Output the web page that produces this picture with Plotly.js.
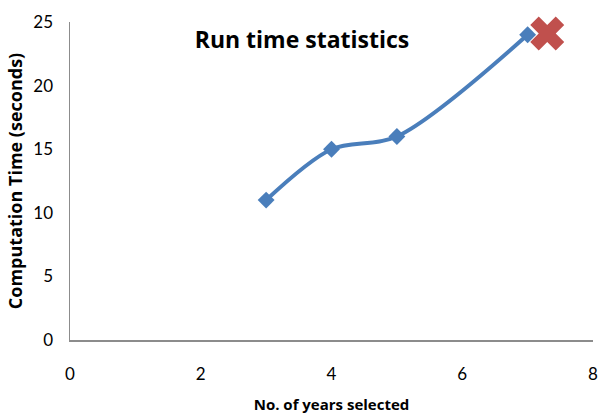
<!DOCTYPE html>
<html>
<head>
<meta charset="utf-8">
<script src="https://cdn.plot.ly/plotly-3.0.1.min.js"></script>
<style>html,body{margin:0;padding:0;background:#fff;}#chart{width:598px;height:416px;}</style>
</head>
<body>
<div id="chart"></div>
<script>
var yearsSelected = [3, 4, 5, 7];
var computationTime = [11, 15, 16, 24];
var failX = [7.3];
var failY = [24.1];
var xTicks = [0, 2, 4, 6, 8];
var yTicks = [0, 5, 10, 15, 20, 25];

var traces = [
  {
    x: yearsSelected, y: computationTime, type: 'scatter', mode: 'lines+markers',
    line: {color: '#4A7EBB', width: 4, shape: 'spline', smoothing: 0.9},
    marker: {symbol: 'diamond', size: 13, color: '#4A7EBB'},
    hoverinfo: 'skip', cliponaxis: false
  },
  {
    x: failX, y: failY, type: 'scatter', mode: 'markers',
    marker: {symbol: 'x', size: 30, color: '#C0504D'},
    hoverinfo: 'skip', cliponaxis: false
  }
];

var layout = {
  width: 598, height: 416,
  margin: {l: 70, r: 5, t: 22, b: 76},
  paper_bgcolor: '#ffffff', plot_bgcolor: '#ffffff',
  showlegend: false,
  font: {family: 'Lato, "Open Sans", sans-serif', color: '#000'},
  title: {
    text: 'Run time statistics',
    font: {family: '"Open Sans", sans-serif', size: 23, color: '#000', weight: 'bold'},
    x: 0.505, xref: 'container', xanchor: 'center',
    y: 0.905, yref: 'container', yanchor: 'middle'
  },
  xaxis: {
    range: [0, 8], tickvals: xTicks, ticktext: xTicks.map(String),
    showgrid: false, zeroline: false, showline: true, linecolor: '#8c8c8c', linewidth: 1.5,
    ticks: '', ticklabelstandoff: 18, ticklabeloverflow: 'allow',
    tickfont: {size: 17, color: '#000'},
    title: {text: 'No. of years selected', font: {size: 15, color: '#000', weight: 'bold', family: '"Open Sans", sans-serif'}, standoff: 16}
  },
  yaxis: {
    range: [0, 25], tickvals: yTicks, ticktext: yTicks.map(String),
    showgrid: false, zeroline: false, showline: true, linecolor: '#8c8c8c', linewidth: 1.5,
    ticks: '', ticklabelstandoff: 12,
    tickfont: {size: 17, color: '#000'},
    title: {text: 'Computation Time (seconds)', font: {size: 18, color: '#000', weight: 'bold', family: '"Open Sans", sans-serif'}, standoff: 6}
  }
};

Plotly.newPlot('chart', traces, layout, {displayModeBar: false, staticPlot: true});
</script>
</body>
</html>
